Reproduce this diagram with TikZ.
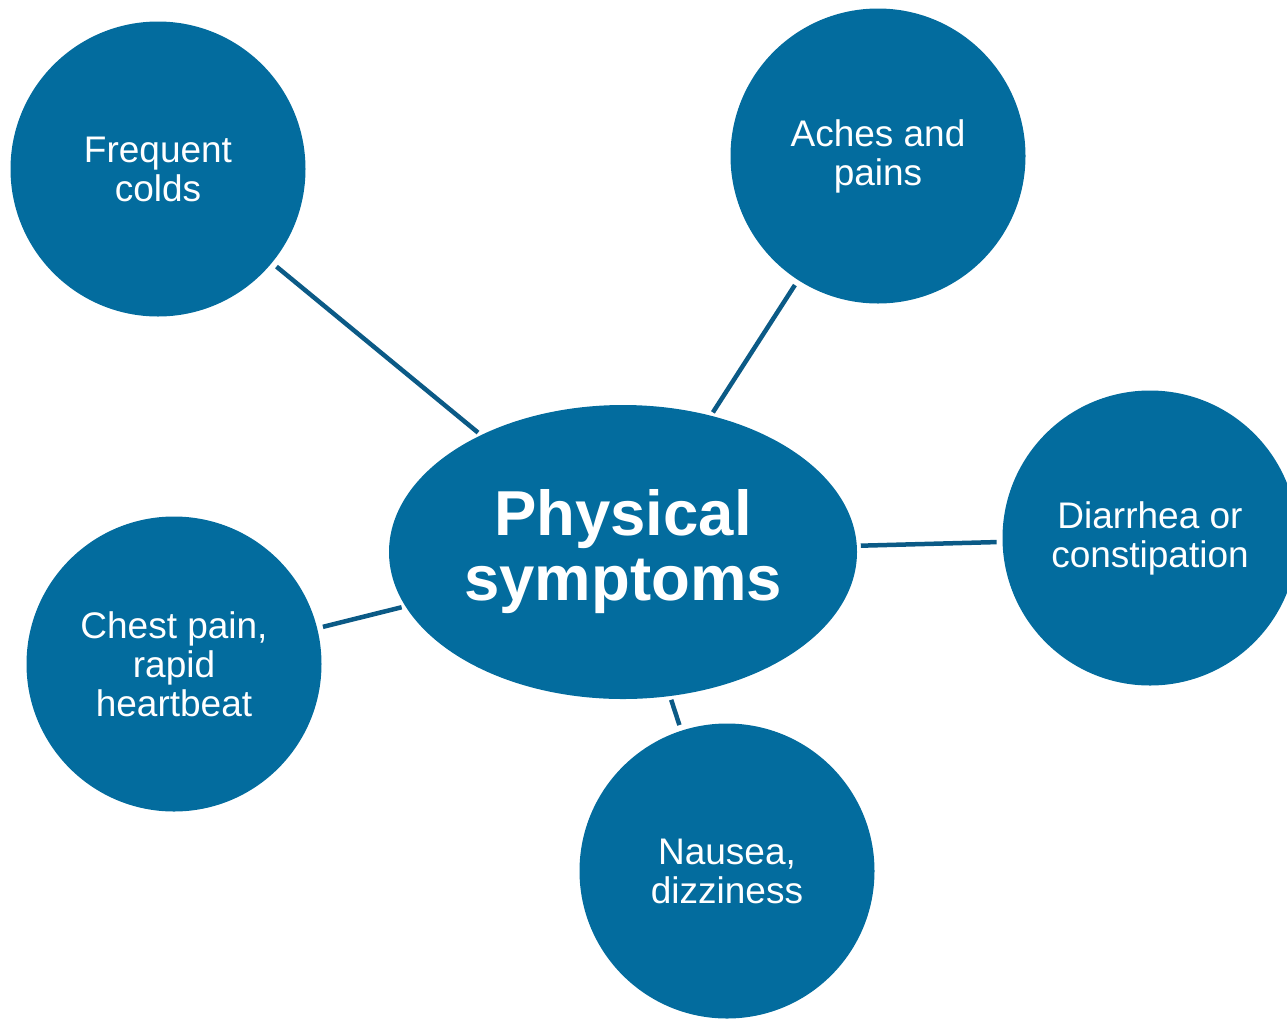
\documentclass[tikz,border=0pt]{standalone}
\usepackage{fontspec}
\setmainfont{Liberation Sans}
\usetikzlibrary{shapes.geometric}
\definecolor{fillblue}{HTML}{036C9E}
\definecolor{lineblue}{HTML}{0B5A86}
\begin{document}
\begin{tikzpicture}[x=1pt,y=-1pt,
  bubble/.style={circle,fill=fillblue,draw=none,minimum size=295pt,inner sep=0pt,outer sep=0pt,
    text=white,align=center,font=\fontsize{37}{39}\selectfont},
  hub/.style={ellipse,fill=fillblue,draw=none,minimum width=468pt,minimum height=294pt,inner sep=0pt,outer sep=0pt,
    text=white,align=center,font=\fontsize{63.5}{65}\selectfont\bfseries},
  link/.style={draw=lineblue,line width=4.5pt,shorten <=6pt,shorten >=4pt}]
\useasboundingbox (0,0) rectangle (1287,1018);
\node[hub] (c) at (623,552) {Physical\\symptoms};
\node[bubble] (fc) at (158,169) {Frequent\\colds};
\node[bubble] (ap) at (878,156) {Aches and\\pains};
\node[bubble] (dc) at (1150,538) {Diarrhea or\\constipation};
\node[bubble] (cp) at (174,664) {Chest pain,\\rapid\\heartbeat};
\node[bubble] (nd) at (727,871) {Nausea,\\dizziness};
\draw[link] (fc) -- (c);
\draw[link] (ap) -- (c);
\draw[link] (dc) -- (c);
\draw[link] (cp) -- (c);
\draw[link] (nd) -- (c);
\end{tikzpicture}
\end{document}
